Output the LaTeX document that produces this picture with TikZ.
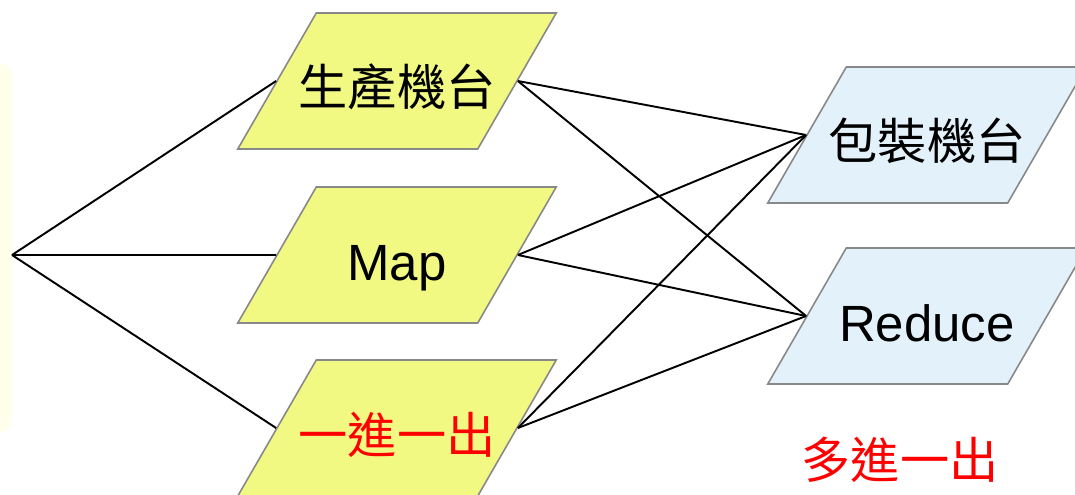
\documentclass[tikz,border=0pt]{standalone}
\usepackage{fontspec}
\setsansfont{Liberation Sans}
\newfontfamily\cjk{Noto Sans CJK TC}
\usepackage{tikz}
\usetikzlibrary{shapes.geometric}
\usepackage{xcolor}
\definecolor{mapfill}{RGB}{241,249,131}
\definecolor{reducefill}{RGB}{227,241,251}
\definecolor{paper}{RGB}{255,255,236}
\definecolor{edge}{RGB}{136,136,136}

\begin{document}
\begin{tikzpicture}[x=0.02cm, y=-0.02cm,
    machine/.style={trapezium, trapezium left angle=60, trapezium right angle=120,
        inner sep=0pt, text width=3.23cm, text height=1.86cm, text depth=0.86cm,
        execute at begin node=\hbox to\linewidth\bgroup\hss,
        execute at end node=\hss\egroup,
        draw=edge, line width=0.9pt},
    zh/.style={font=\cjk\fontsize{28}{30}\selectfont},
    en/.style={font=\sffamily\fontsize{29}{31}\selectfont},
    link/.style={black, line width=1.1pt}]
    \useasboundingbox (0,0) rectangle (1075,494);
    \begin{scope}
    \clip (0,0) rectangle (1075,494);
    \fill[paper, rounded corners=7pt] (-40,63) rectangle (12,432);
    \coordinate (hub) at (12,255);
    \node[machine, fill=mapfill, zh] (prod) at (397,81) {生產機台};
    \node[machine, fill=mapfill, en] (map) at (397,255) {Map};
    \node[machine, fill=mapfill, zh, text=red] (oneone) at (397,428) {一進一出};
    \node[machine, fill=reducefill, zh] (pack) at (927,135) {包裝機台};
    \node[machine, fill=reducefill, en] (reduce) at (927,316) {Reduce};
    \node[zh, text=red] (many) at (900,460) {多進一出};
    \foreach \m in {prod,map,oneone}
        \draw[link] (hub) -- (\m.west);
    \foreach \m in {prod,map,oneone}
        \foreach \r in {pack,reduce}
            \draw[link] (\m.east) -- (\r.west);
    \end{scope}
\end{tikzpicture}
\end{document}
